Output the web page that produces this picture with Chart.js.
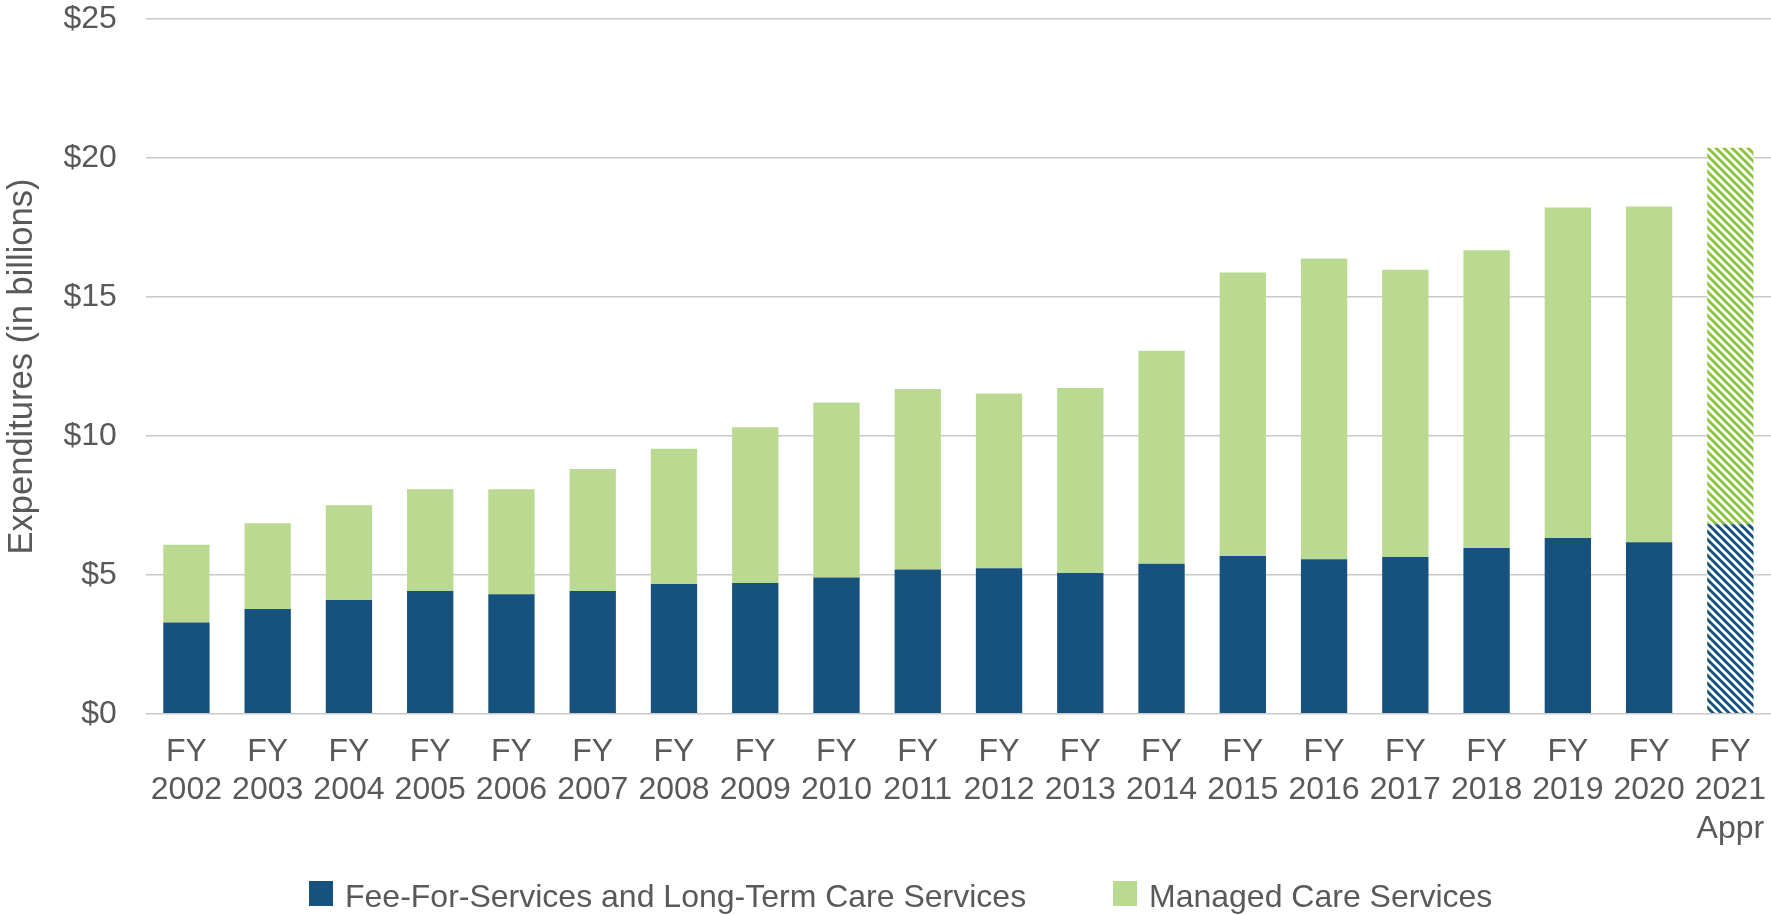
<!DOCTYPE html>
<html>
<head>
<meta charset="utf-8">
<script src="https://cdn.jsdelivr.net/npm/chart.js@4.4.1/dist/chart.umd.min.js"></script>
<style>
  body { margin: 0; background: #fff; }
  #wrap { width: 1771px; height: 915px; }
</style>
</head>
<body>
<div id="wrap"><canvas id="chart" width="1771" height="915"></canvas></div>
<script>
// fiscal years on the x axis, last one is the appropriation
const years = ['2002','2003','2004','2005','2006','2007','2008','2009','2010','2011',
               '2012','2013','2014','2015','2016','2017','2018','2019','2020','2021'];
const lastNote = 'Appr';

// billions of dollars
const feeForService = [3.29, 3.77, 4.10, 4.42, 4.30, 4.42, 4.67, 4.71, 4.91, 5.19,
                       5.24, 5.07, 5.40, 5.68, 5.56, 5.64, 5.97, 6.33, 6.17, 6.82];
const managedCare   = [2.79, 3.09, 3.41, 3.66, 3.78, 4.39, 4.87, 5.60, 6.29, 6.50,
                       6.29, 6.66, 7.67, 10.20, 10.83, 10.34, 10.71, 11.89, 12.09, 13.55];

const yTicks = [0, 5, 10, 15, 20, 25];

const BLUE = '#16527d';
const GREEN = '#bbda91';
const TEXT = '#595959';
const FONT = "'Liberation Sans', Arial, sans-serif";

// diagonal stripes for the appropriation year
function hatch(color) {
  const c = document.createElement('canvas');
  c.width = 8; c.height = 8;
  const g = c.getContext('2d');
  g.fillStyle = '#fff';
  g.fillRect(0, 0, 8, 8);
  g.strokeStyle = color;
  g.lineWidth = 3;
  g.beginPath();
  for (let k = -8; k <= 8; k += 8) {
    g.moveTo(k - 1, -1);
    g.lineTo(k + 9, 9);
  }
  g.stroke();
  return g.createPattern(c, 'repeat');
}

const labels = years.map((y, i) => i === years.length - 1 ? ['FY', y, lastNote] : ['FY', y]);
const blueFill = years.map((y, i) => i === years.length - 1 ? hatch(BLUE) : BLUE);
const greenFill = years.map((y, i) => i === years.length - 1 ? hatch('#8dc342') : GREEN);

const bottomLegend = {
  id: 'bottomLegend',
  afterDraw(chart) {
    const ctx = chart.ctx;
    const spots = [309, 1113];
    ctx.save();
    ctx.font = '32px ' + FONT;
    ctx.textBaseline = 'middle';
    ctx.textAlign = 'left';
    chart.data.datasets.forEach((ds, i) => {
      ctx.fillStyle = ds.legendColor;
      ctx.fillRect(spots[i], 881, 24, 25);
      ctx.fillStyle = TEXT;
      ctx.fillText(ds.label, spots[i] + 36, 898);
    });
    ctx.restore();
  }
};

new Chart(document.getElementById('chart'), {
  type: 'bar',
  data: {
    labels: labels,
    datasets: [
      { label: 'Fee-For-Services and Long-Term Care Services', data: feeForService,
        backgroundColor: blueFill, legendColor: BLUE,
        barPercentage: 0.57, categoryPercentage: 1 },
      { label: 'Managed Care Services', data: managedCare,
        backgroundColor: greenFill, legendColor: GREEN,
        barPercentage: 0.57, categoryPercentage: 1 }
    ]
  },
  options: {
    responsive: false,
    animation: false,
    layout: { padding: { top: 0, right: 0, bottom: 67, left: 0 } },
    plugins: {
      legend: { display: false },
      tooltip: { enabled: false }
    },
    scales: {
      x: {
        stacked: true,
        grid: { display: false, tickLength: 19, tickColor: 'transparent' },
        border: { display: false },
        ticks: { color: TEXT, font: { family: FONT, size: 32, lineHeight: 1.2 }, padding: 0, maxRotation: 0, autoSkip: false }
      },
      y: {
        stacked: true,
        min: 0, max: 25,
        afterBuildTicks: axis => { axis.ticks = yTicks.map(v => ({ value: v })); },
        grid: { color: '#c9c9c9', lineWidth: 1.5, tickLength: 29, tickColor: 'transparent' },
        border: { display: false },
        ticks: { color: TEXT, font: { family: FONT, size: 32 }, padding: 0, callback: v => '$' + v },
        title: { display: true, text: 'Expenditures (in billions)', color: TEXT,
                 font: { family: FONT, size: 34.5 }, padding: { top: 2, bottom: 20 } }
      }
    }
  },
  plugins: [bottomLegend]
});
</script>
</body>
</html>
